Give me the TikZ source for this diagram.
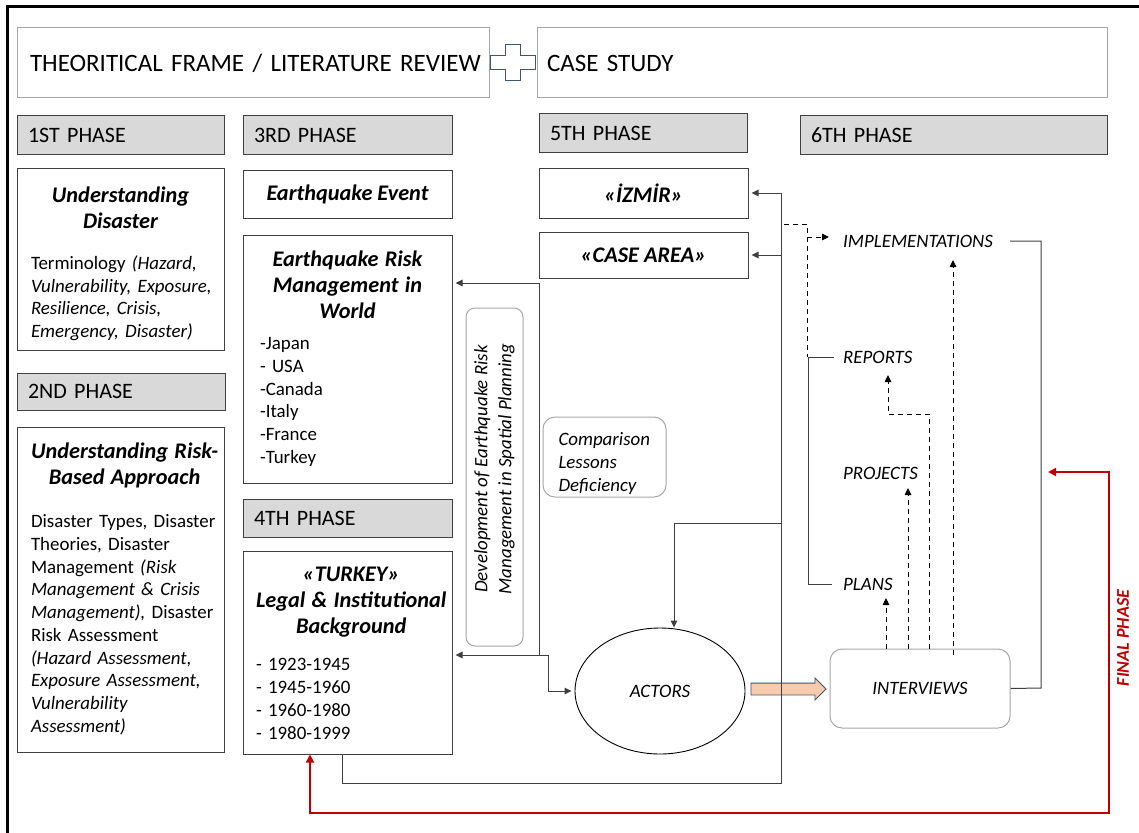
\documentclass[tikz,border=0pt]{standalone}
\usepackage{fontspec}
\setmainfont{Carlito}
\usepackage{tikz}
\usetikzlibrary{shapes,shapes.geometric,shapes.arrows,arrows,arrows.meta,positioning}

\definecolor{phasegray}{HTML}{D9D9D9}
\definecolor{darkline}{HTML}{404040}
\definecolor{lightline}{HTML}{A6A6A6}
\definecolor{finalred}{HTML}{C00000}
\definecolor{peach}{HTML}{F8CBAD}
\definecolor{slate}{HTML}{44546A}

\newcommand{\TitleFont}{\fontsize{22.3}{26}\selectfont\bfseries\itshape}
% title lines centred, body lines flush left, no extra line breaks
\newcommand{\BoxTitle}[1]{{\centering\TitleFont\begin{tabular}{@{}c@{}}#1\end{tabular}\par}}
\newcommand{\BoxBody}[1]{{\raggedright\noindent\begin{tabular}{@{}l@{}}#1\end{tabular}\par}}

\begin{document}
\begin{tikzpicture}[x=1pt,y=-1pt]
	\tikzstyle{Header}	= [draw=lightline, line width=1pt, minimum height=70pt, inner ysep=0pt, align=left, font=\fontsize{25}{30}\selectfont]
	\tikzstyle{Phase}	= [draw=darkline, fill=phasegray, line width=1pt, minimum height=38pt, inner ysep=0pt, inner xsep=11pt, align=left, font=\fontsize{22}{26}\selectfont]
	\tikzstyle{Box}		= [draw=darkline, line width=1pt, inner sep=0pt, font=\fontsize{18.9}{22.7}\selectfont]
	\tikzstyle{BoxText}	= [inner sep=0pt, font=\fontsize{18.9}{22.7}\selectfont]
	\tikzstyle{Soft}	= [draw=lightline, line width=1pt, rounded corners=9pt, inner sep=0pt, font=\fontsize{18.9}{22.7}\selectfont\itshape]
	\tikzstyle{Label}	= [inner sep=0pt, anchor=west, font=\fontsize{18.9}{22.7}\selectfont\itshape]
	\tikzstyle{Line}	= [draw=darkline, line width=1pt]
	\tikzstyle{Arrow}	= [Line, -{Triangle[length=7pt,width=6.5pt]}, shorten >=3pt]
	\tikzstyle{DashArrow}	= [draw=black, line width=0.9pt, dash pattern=on 5pt off 4pt, -{Triangle[length=7pt,width=6.5pt]}]
	\tikzstyle{DashLine}	= [draw=black, line width=0.9pt, dash pattern=on 5pt off 4pt]
	\tikzstyle{Final}	= [draw=finalred, line width=1.8pt, {Triangle[length=8pt,width=8pt]}-{Triangle[length=8pt,width=8pt]}]

	\useasboundingbox (0,0) rectangle (1139,832);
	\clip (0,0) rectangle (1139,832);
	\draw [line width=3pt] (7,7) rectangle (1170,870);

	% headers
	\node (tf) at (253,63) [Header, text width=446pt, inner xsep=13pt] {\mbox{THEORITICAL FRAME / LITERATURE REVIEW}};
	\node (cs) at (822,63) [Header, text width=550pt, inner xsep=10pt] {\mbox{CASE STUDY}};
	\draw [draw=slate, fill=white, line width=1pt] (505,45) -- (520,45) -- (520,56) -- (535,56) -- (535,70) -- (520,70) -- (520,81) -- (505,81) -- (505,70) -- (490,70) -- (490,56) -- (505,56) -- cycle;

	% phases
	\node (p1) at (120.5,135) [Phase, text width=185pt] {1ST PHASE};
	\node (p2) at (121,391.5) [Phase, text width=186pt, minimum height=37pt] {2ND PHASE};
	\node (p3) at (347.5,135) [Phase, text width=187pt] {3RD PHASE};
	\node (p4) at (347.5,518) [Phase, text width=187pt] {4TH PHASE};
	\node (p5) at (643,133) [Phase, text width=186pt] {5TH PHASE};
	\node (p6) at (953.5,135) [Phase, text width=285pt] {6TH PHASE};

	% theory column
	\node (ud) at (120.5,259) [Box, minimum width=207pt, minimum height=182pt] {};
	\node (udtext) at (120.5,264.5) [BoxText, text width=179pt]
		{\BoxTitle{Understanding\\Disaster}\vspace{16pt}
		\BoxBody{Terminology \textit{(Hazard,}\\\textit{Vulnerability, Exposure,}\\\textit{Resilience, Crisis,}\\\textit{Emergency, Disaster)}}};
	\node (ur) at (120.5,589.5) [Box, minimum width=207pt, minimum height=325pt, text width=179pt]
		{\BoxTitle{Understanding Risk-\\Based Approach}\vspace{19pt}
		\BoxBody{Disaster Types, Disaster\\Theories, Disaster\\Management \textit{(Risk}\\\textit{Management \& Crisis}\\\textit{Management),} Disaster\\Risk Assessment\\\textit{(Hazard Assessment,}\\\textit{Exposure Assessment,}\\\textit{Vulnerability}\\\textit{Assessment)}}};
	\node (ee) at (347.5,194) [Box, minimum width=209pt, minimum height=48pt, font=\TitleFont] {Earthquake Event};
	\node (ew) at (347.5,359) [Box, minimum width=209pt, minimum height=248pt, text width=175pt]
		{\BoxTitle{Earthquake Risk\\Management in\\World}\vspace{7pt}
		\BoxBody{-Japan\\- USA\\-Canada\\-Italy\\-France\\-Turkey}};
	\node (tr) at (347.5,652.5) [Box, minimum width=209pt, minimum height=203pt] {};
	\node (trtext) at (347.5,654.5) [BoxText, text width=183pt]
		{\BoxTitle{«TURKEY»\\Legal \& Institutional\\Background}\vspace{13pt}
		\BoxBody{- 1923-1945\\- 1945-1960\\- 1960-1980\\- 1980-1999}};
	\node (dev) at (494.5,477) [Soft, rotate=90, minimum width=338pt, minimum height=57pt, align=center, font=\fontsize{18.9}{24}\selectfont\itshape]
		{\hspace*{16pt}Development of Earthquake Risk\\\hspace*{16pt}Management in Spatial Planning};
	\node (cmp) at (604.5,457) [Soft, rounded corners=12pt, minimum width=123pt, minimum height=80pt] {};
	\node (cmptext) at (604.5,463.5) [BoxText, text width=92pt, align=left, font=\fontsize{18.9}{22.7}\selectfont\itshape] {Comparison\\Lessons\\Deficiency};

	% case study column
	\node (izmir) at (643.5,193) [Box, minimum width=209pt, minimum height=50pt, font=\TitleFont] {«İZMİR»};
	\node (casearea) at (643.5,255) [Box, minimum width=209pt, minimum height=46pt, font=\TitleFont] {«CASE AREA»};
	\node (actors) at (660,691) [ellipse, draw=black, line width=0.9pt, minimum width=170pt, minimum height=126pt, font=\fontsize{18.9}{22.7}\selectfont\itshape] {ACTORS};
	\node (iv) at (920,688.5) [Soft, rounded corners=12pt, minimum width=180pt, minimum height=79pt] {INTERVIEWS};
	\node (fat) at (785.5,689) [single arrow, draw=slate, fill=peach, line width=0.8pt, minimum height=75pt, minimum width=21pt, inner xsep=0pt, inner ysep=5.5pt, single arrow head extend=5pt] {};

	\node (impl) at (843,241) [Label] {IMPLEMENTATIONS};
	\node (reports) at (843,357) [Label] {REPORTS};
	\node (projects) at (843,473) [Label] {PROJECTS};
	\node (plans) at (843,584) [Label] {PLANS};
	\node (fp) at (1123,638) [rotate=90, inner sep=0pt, text=finalred, font=\fontsize{18}{22}\selectfont\bfseries\itshape] {FINAL PHASE};

	% connectors
	\coordinate (j1) at (539,655);
	\coordinate (j2) at (539,283);
	\coordinate (j3) at (548,655);
	\coordinate (r1) at (781,783);
	\coordinate (r2) at (781,523);
	\coordinate (d1) at (784,224);
	\coordinate (d2) at (807,237);
	\coordinate (fr) at (1109,813);
	\coordinate (fe) at (1048,472);

	\draw [Arrow] (j1) -- (j2) -- (j2 -| ew.east);
	\draw [Arrow] (j1) -- (j1 -| tr.east);
	\draw [Arrow] (j1) -- (j3) |- (actors.west);
	\draw [Arrow] ([xshift=-5.5pt]tr.south) |- (r1) |- (izmir.east);
	\draw [Arrow] (r1 |- casearea.east) -- (casearea.east);
	\draw [Arrow, shorten >=0pt] (r2) -| ([xshift=14pt]actors.north);

	\draw [DashLine] (d1) -| (reports.west -| 807,0);
	\draw [DashArrow, shorten >=14pt] (d2) -- (d2 -| impl.west);
	\draw [Line, shorten <=9pt, shorten >=11pt] (reports.west) -| (plans.west -| 808,0) -- (plans.west);
	\draw [DashArrow] (iv.north -| 886,0) -- (886,598);
	\draw [DashArrow] (iv.north -| 908,0) -- (908,488);
	\draw [DashArrow] (iv.north -| 929,0) |- (888,414) -- (888,375);
	\draw [DashArrow] (953,655) -- (953,260);
	\draw [Line, shorten <=17pt] (impl.east) -| (1041,688) -- (iv.east);

	\draw [Final] (fe) -| (fr) -| ([xshift=-37.5pt]tr.south);
\end{tikzpicture}
\end{document}
